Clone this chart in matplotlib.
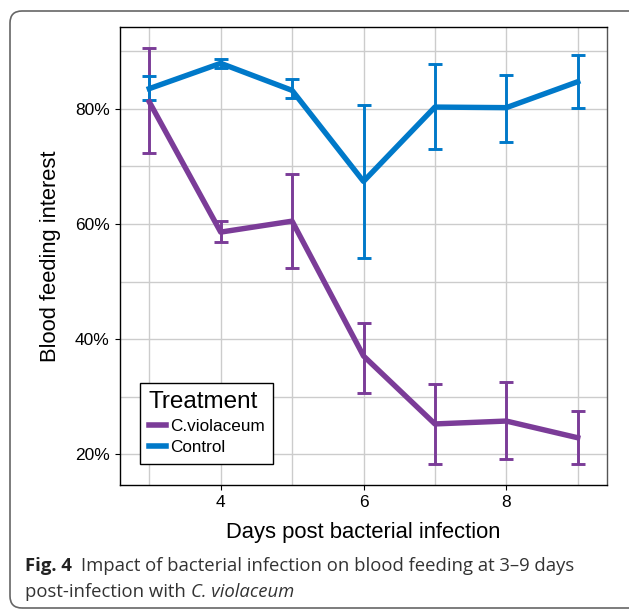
import numpy as np
from matplotlib import pyplot as plt
from matplotlib.lines import Line2D
from matplotlib.patches import FancyBboxPatch
from matplotlib.ticker import FixedLocator, FuncFormatter

# Dados
dias = [3, 4, 5, 6, 7, 8, 9]
cv_media = [81.2, 58.6, 60.5, 37.1, 25.3, 25.8, 22.9]
cv_sup = [90.6, 60.5, 68.7, 42.8, 32.2, 32.5, 27.5]
cv_inf = [72.4, 56.9, 52.3, 30.7, 18.4, 19.2, 18.3]
ct_media = [83.5, 87.9, 83.2, 67.4, 80.3, 80.2, 84.7]
ct_sup = [85.7, 88.7, 85.1, 80.6, 87.7, 85.8, 89.3]
ct_inf = [81.5, 87.0, 81.9, 54.1, 73.0, 74.3, 80.2]
grupos = ["C.violaceum", "Control"]
cores = ["#7b3c98", "#0079c9"]

W, H = 629, 613
fig = plt.figure(figsize=(W / 100, H / 100), dpi=100)
ax = fig.add_axes([120 / W, 1 - 485 / H, 487 / W, 458 / H])

series = [(cv_media, cv_inf, cv_sup), (ct_media, ct_inf, ct_sup)]
for (m, lo, hi), nome, cor in zip(series, grupos, cores):
    m = np.array(m)
    yerr = [m - np.array(lo), np.array(hi) - m]
    ax.errorbar(dias, m, yerr=yerr, color=cor, lw=3.9, elinewidth=2.1,
                capsize=5, capthick=2.1)

ax.set_xlim(2.59, 9.41)
ax.set_ylim(14.7, 94.2)
ax.xaxis.set_major_locator(FixedLocator([4, 6, 8]))
ax.xaxis.set_minor_locator(FixedLocator([3, 5, 7, 9]))
ax.yaxis.set_major_locator(FixedLocator([20, 40, 60, 80]))
ax.yaxis.set_minor_locator(FixedLocator([30, 50, 70, 90]))
ax.yaxis.set_major_formatter(FuncFormatter(lambda v, p: "%d%%" % v))
ax.grid(which="both", color="#cccccc", lw=1.0)
ax.set_axisbelow(True)
ax.tick_params(which="major", length=3.5, width=0.8, labelsize=12.5, pad=4)
ax.tick_params(which="minor", length=0)
for s in ax.spines.values():
    s.set_linewidth(1.0)
ax.spines["right"].set_color("#555555")

fonte = "Liberation Sans"
for lbl in ax.get_xticklabels() + ax.get_yticklabels():
    lbl.set_fontfamily(fonte)
ax.set_xlabel("Days post bacterial infection", fontsize=15.8, family=fonte, labelpad=8)
ax.set_ylabel("Blood feeding interest", fontsize=15.8, family=fonte, labelpad=10)

alcas = [Line2D([], [], color=c, lw=4) for c in cores]
leg = ax.legend(alcas, grupos, title="Treatment", loc="lower left",
                bbox_to_anchor=(0.041, 0.046),
                borderaxespad=0, fancybox=False, edgecolor="black", framealpha=1,
                handlelength=1.0, handletextpad=0.25, labelspacing=0.35,
                borderpad=0.5, prop={"family": fonte, "size": 12.3},
                title_fontproperties={"family": fonte, "size": 17.5})
leg.get_frame().set_linewidth(1.0)
leg._legend_box.align = "left"

# Moldura arredondada
borda = FancyBboxPatch((10, 5), 640, 597, boxstyle="round,pad=0,rounding_size=12",
                       transform=None, fill=False, edgecolor="#666666", lw=1.2)
fig.patches.append(borda)

# Legenda da figura
fig.canvas.draw()
rend = fig.canvas.get_renderer()
cap = "Open Sans"
tam = 13.3
y1, y2 = 1 - 571 / H, 1 - 597 / H
t = fig.text(25 / W, y1, "Fig. 4", fontsize=tam, weight="bold", family=cap, color="#222222")
bb = t.get_window_extent(rend)
fig.text((bb.x1 + 9) / W, y1, "Impact of bacterial infection on blood feeding at 3\u20139 days",
         fontsize=tam, family=cap, color="#333333")
t2 = fig.text(25 / W, y2, "post-infection with ", fontsize=tam, family=cap, color="#333333")
bb2 = t2.get_window_extent(rend)
fig.text(bb2.x1 / W, y2, "C. violaceum", fontsize=tam, family=cap, style="italic", color="#333333")

plt.savefig("out.png", dpi=100)
